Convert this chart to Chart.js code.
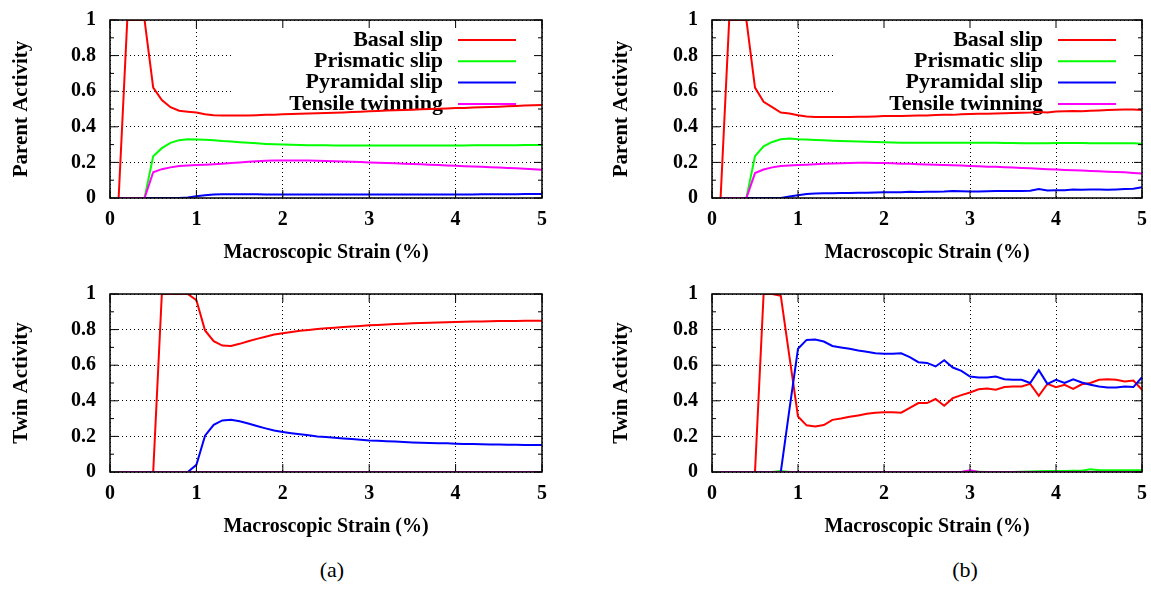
<!DOCTYPE html>
<html>
<head>
<meta charset="utf-8">
<script src="https://cdn.jsdelivr.net/npm/chart.js@4.4.1/dist/chart.umd.min.js"></script>
<style>
  body { margin: 0; background: #fff; width: 1151px; height: 610px; position: relative; overflow: hidden; }
  canvas { position: absolute; }
  .cap { position: absolute; width: 100px; text-align: center; font-family: 'Liberation Serif', serif; font-size: 22px; line-height: 26px; top: 557px; }
</style>
</head>
<body>
<canvas id="pa" width="560" height="270" style="left:0;top:0"></canvas>
<canvas id="pb" width="551" height="270" style="left:600px;top:0"></canvas>
<canvas id="ta" width="560" height="270" style="left:0;top:274px"></canvas>
<canvas id="tb" width="551" height="270" style="left:600px;top:274px"></canvas>
<div class="cap" style="left:282px">(a)</div>
<div class="cap" style="left:915px">(b)</div>
<script>
// macroscopic strain (%) for every sample
const strain = [0.1, 0.2, 0.3, 0.4, 0.5, 0.6, 0.7, 0.8, 0.9, 1.0,
  1.1, 1.2, 1.3, 1.4, 1.5, 1.6, 1.7, 1.8, 1.9, 2.0,
  2.1, 2.2, 2.3, 2.4, 2.5, 2.6, 2.7, 2.8, 2.9, 3.0,
  3.1, 3.2, 3.3, 3.4, 3.5, 3.6, 3.7, 3.8, 3.9, 4.0,
  4.1, 4.2, 4.3, 4.4, 4.5, 4.6, 4.7, 4.8, 4.9, 5.0];

const labels = ['Basal slip', 'Prismatic slip', 'Pyramidal slip', 'Tensile twinning'];
const colors = ['#ff0000', '#00ff00', '#0000ff', '#ff00ff'];

// (a) parent
const aParentBasal = [0, 1, 1, 1, 0.62, 0.55, 0.51, 0.49, 0.485, 0.48,
  0.47, 0.465, 0.463, 0.463, 0.463, 0.464, 0.465, 0.467, 0.468, 0.47,
  0.472, 0.473, 0.475, 0.476, 0.478, 0.479, 0.481, 0.483, 0.485, 0.487,
  0.489, 0.491, 0.493, 0.494, 0.496, 0.498, 0.5, 0.501, 0.503, 0.505,
  0.506, 0.508, 0.51, 0.511, 0.513, 0.515, 0.517, 0.519, 0.521, 0.523];
const aParentPrism = [0, 0, 0, 0, 0.235, 0.28, 0.31, 0.325, 0.33, 0.328,
  0.327, 0.325, 0.32, 0.317, 0.313, 0.31, 0.307, 0.304, 0.302, 0.3,
  0.299, 0.298, 0.297, 0.296, 0.296, 0.295, 0.295, 0.295, 0.295, 0.295,
  0.295, 0.295, 0.295, 0.295, 0.295, 0.295, 0.295, 0.295, 0.295, 0.295,
  0.295, 0.296, 0.296, 0.296, 0.297, 0.297, 0.297, 0.298, 0.298, 0.298];
const aParentPyr = [0, 0, 0, 0, 0, 0, 0, 0, 0.003, 0.01,
  0.015, 0.019, 0.021, 0.021, 0.021, 0.021, 0.021, 0.02, 0.02, 0.02,
  0.02, 0.02, 0.02, 0.02, 0.02, 0.02, 0.02, 0.02, 0.02, 0.02,
  0.02, 0.02, 0.02, 0.02, 0.02, 0.02, 0.02, 0.02, 0.02, 0.02,
  0.02, 0.02, 0.021, 0.021, 0.021, 0.021, 0.021, 0.022, 0.022, 0.022];
const aParentTwin = [0, 0, 0, 0, 0.145, 0.162, 0.172, 0.18, 0.182, 0.185,
  0.187, 0.19, 0.193, 0.197, 0.2, 0.204, 0.207, 0.209, 0.21, 0.21,
  0.21, 0.21, 0.21, 0.209, 0.208, 0.207, 0.205, 0.204, 0.202, 0.2,
  0.198, 0.197, 0.195, 0.193, 0.191, 0.189, 0.187, 0.185, 0.183, 0.181,
  0.179, 0.177, 0.175, 0.173, 0.171, 0.169, 0.167, 0.164, 0.161, 0.158];

// (b) parent
const bParentBasal = [0, 1, 1, 1, 0.62, 0.54, 0.51, 0.48, 0.475, 0.465,
  0.458, 0.455, 0.455, 0.455, 0.455, 0.455, 0.456, 0.457, 0.458, 0.46,
  0.46, 0.461, 0.462, 0.463, 0.464, 0.466, 0.467, 0.467, 0.47, 0.472,
  0.473, 0.474, 0.475, 0.476, 0.478, 0.479, 0.48, 0.483, 0.481, 0.486,
  0.487, 0.489, 0.488, 0.49, 0.492, 0.495, 0.496, 0.497, 0.497, 0.495];
const bParentPrism = [0, 0, 0, 0, 0.235, 0.29, 0.315, 0.33, 0.334, 0.33,
  0.328, 0.326, 0.324, 0.322, 0.32, 0.319, 0.318, 0.316, 0.315, 0.313,
  0.312, 0.311, 0.31, 0.31, 0.31, 0.31, 0.31, 0.31, 0.31, 0.31,
  0.31, 0.31, 0.31, 0.309, 0.309, 0.308, 0.308, 0.307, 0.308, 0.309,
  0.309, 0.309, 0.309, 0.308, 0.308, 0.308, 0.308, 0.308, 0.307, 0.305];
const bParentPyr = [0, 0, 0, 0, 0, 0, 0, 0, 0.008, 0.015,
  0.022, 0.025, 0.026, 0.027, 0.028, 0.028, 0.029, 0.03, 0.031, 0.032,
  0.032, 0.033, 0.035, 0.034, 0.035, 0.035, 0.036, 0.04, 0.038, 0.037,
  0.037, 0.038, 0.039, 0.039, 0.04, 0.04, 0.041, 0.05, 0.042, 0.044,
  0.044, 0.048, 0.047, 0.048, 0.048, 0.047, 0.048, 0.05, 0.052, 0.06];
const bParentTwin = [0, 0, 0, 0, 0.14, 0.16, 0.172, 0.18, 0.182, 0.185,
  0.187, 0.19, 0.192, 0.194, 0.195, 0.197, 0.198, 0.198, 0.197, 0.196,
  0.195, 0.193, 0.192, 0.19, 0.188, 0.187, 0.185, 0.184, 0.182, 0.18,
  0.178, 0.176, 0.175, 0.173, 0.171, 0.169, 0.167, 0.165, 0.162, 0.16,
  0.158, 0.156, 0.154, 0.152, 0.15, 0.148, 0.146, 0.144, 0.141, 0.137];

// (a) twin
const aTwinBasal = [0, 0, 0, 0, 0, 1, 1, 1, 1, 0.965,
  0.795, 0.735, 0.71, 0.708, 0.72, 0.735, 0.748, 0.76, 0.772, 0.78,
  0.787, 0.793, 0.798, 0.803, 0.807, 0.81, 0.814, 0.817, 0.82, 0.824,
  0.826, 0.829, 0.831, 0.833, 0.835, 0.837, 0.838, 0.84, 0.841, 0.843,
  0.844, 0.845, 0.846, 0.847, 0.848, 0.849, 0.849, 0.85, 0.85, 0.85];
const aTwinPrism = [0, 0, 0, 0, 0, 0, 0, 0, 0, 0,
  0, 0, 0, 0, 0, 0, 0, 0, 0, 0,
  0, 0, 0, 0, 0, 0, 0, 0, 0, 0,
  0, 0, 0, 0, 0, 0, 0, 0, 0, 0,
  0, 0, 0, 0, 0, 0, 0, 0, 0, 0];
const aTwinPyr = [0, 0, 0, 0, 0, 0, 0, 0, 0, 0.04,
  0.204, 0.265, 0.29, 0.293, 0.285, 0.272, 0.258, 0.245, 0.233, 0.225,
  0.218, 0.212, 0.206, 0.2, 0.196, 0.192, 0.188, 0.185, 0.181, 0.177,
  0.175, 0.173, 0.171, 0.169, 0.166, 0.164, 0.163, 0.162, 0.161, 0.159,
  0.158, 0.157, 0.156, 0.155, 0.154, 0.153, 0.153, 0.152, 0.152, 0.152];
const aTwinTwin = [0, 0, 0, 0, 0, 0, 0, 0, 0, 0,
  0, 0, 0, 0, 0, 0, 0, 0, 0, 0,
  0, 0, 0, 0, 0, 0, 0, 0, 0, 0,
  0, 0, 0, 0, 0, 0, 0, 0, 0, 0,
  0, 0, 0, 0, 0, 0, 0, 0, 0, 0];

// (b) twin
const bTwinBasal = [0, 0, 0, 0, 0, 1, 1, 0.99, 0.65, 0.312,
  0.262, 0.256, 0.264, 0.293, 0.3, 0.31, 0.318, 0.327, 0.333, 0.336,
  0.336, 0.333, 0.36, 0.387, 0.387, 0.41, 0.372, 0.415, 0.432, 0.447,
  0.465, 0.469, 0.462, 0.477, 0.48, 0.48, 0.495, 0.428, 0.495, 0.477,
  0.49, 0.467, 0.493, 0.5, 0.518, 0.521, 0.518, 0.508, 0.514, 0.462];
const bTwinPrism = [0, 0, 0, 0, 0, 0, 0, 0.005, 0, 0,
  0, 0, 0, 0, 0, 0, 0, 0, 0, 0,
  0, 0, 0, 0, 0, 0, 0, 0, 0, 0.005,
  0.002, 0, 0, 0, 0, 0.002, 0.003, 0.004, 0.005, 0.005,
  0.006, 0.007, 0.007, 0.015, 0.01, 0.01, 0.01, 0.01, 0.01, 0.01];
const bTwinPyr = [0, 0, 0, 0, 0, 0, 0, 0, 0.35, 0.692,
  0.742, 0.744, 0.733, 0.708, 0.7, 0.692, 0.682, 0.675, 0.667, 0.664,
  0.664, 0.667, 0.645, 0.617, 0.613, 0.593, 0.628, 0.587, 0.568, 0.536,
  0.531, 0.531, 0.536, 0.521, 0.518, 0.518, 0.5, 0.572, 0.495, 0.518,
  0.5, 0.521, 0.503, 0.49, 0.48, 0.475, 0.475, 0.48, 0.477, 0.533];
const bTwinTwin = [0, 0, 0, 0, 0, 0, 0, 0, 0, 0,
  0, 0, 0, 0, 0, 0, 0, 0, 0, 0,
  0, 0, 0, 0, 0, 0, 0, 0, 0, 0.01,
  0, 0, 0, 0, 0, 0, 0, 0, 0, 0,
  0, 0, 0, 0, 0, 0, 0, 0, 0, 0];

const FONT = 'Liberation Serif';

// gnuplot-like frame with inward ticks
const frame = {
  id: 'frame',
  afterDraw(chart) {
    const { ctx, chartArea: a, scales: { x, y } } = chart;
    ctx.save();
    ctx.strokeStyle = '#000';
    ctx.lineWidth = 1;
    ctx.beginPath();
    const yt = y.ticks.map(t => t.value);
    yt.forEach((v, i) => {
      const p = y.getPixelForValue(v);
      ctx.moveTo(a.left, p); ctx.lineTo(a.left + 8, p);
      ctx.moveTo(a.right, p); ctx.lineTo(a.right - 8, p);
      if (i > 0) {
        const m = y.getPixelForValue((v + yt[i - 1]) / 2);
        ctx.moveTo(a.left, m); ctx.lineTo(a.left + 4, m);
        ctx.moveTo(a.right, m); ctx.lineTo(a.right - 4, m);
      }
    });
    x.ticks.forEach(t => {
      const p = x.getPixelForValue(t.value);
      ctx.moveTo(p, a.bottom); ctx.lineTo(p, a.bottom - 8);
      ctx.moveTo(p, a.top); ctx.lineTo(p, a.top + 8);
    });
    ctx.stroke();
    ctx.lineWidth = 1.5;
    ctx.strokeRect(a.left, a.top, a.right - a.left, a.bottom - a.top);
    ctx.restore();
  }
};

// opaque key box, right aligned text with line sample
const gpKey = {
  id: 'gpKey',
  beforeDatasetsDraw(chart, args, opts) {
    if (!opts.display) return;
    const { ctx, chartArea: a } = chart;
    ctx.save();
    ctx.fillStyle = '#fff';
    ctx.fillRect(a.right - 308, a.top + 1, 307, 104);
    ctx.font = 'bold 22px "' + FONT + '"';
    ctx.textAlign = 'right';
    ctx.textBaseline = 'middle';
    chart.data.datasets.forEach((ds, i) => {
      const yy = a.top + 20 + i * 21.3;
      ctx.fillStyle = '#000';
      ctx.fillText(ds.label, a.right - 99, yy);
      ctx.strokeStyle = ds.borderColor;
      ctx.lineWidth = 2;
      ctx.beginPath();
      ctx.moveTo(a.right - 84, yy);
      ctx.lineTo(a.right - 26, yy);
      ctx.stroke();
    });
    ctx.restore();
  }
};

function makeChart(id, series, yTitle, showKey, yWidth, padRight) {
  const datasets = series.map((s, i) => ({
    label: labels[i],
    data: s.map((v, j) => ({ x: strain[j], y: v })),
    borderColor: colors[i],
    borderWidth: 2,
    pointRadius: 0,
    tension: 0,
    order: series.length - i
  }));
  const tickFont = { family: FONT, size: 20, weight: 'bold' };
  return new Chart(document.getElementById(id), {
    type: 'line',
    data: { datasets },
    options: {
      responsive: false,
      animation: false,
      layout: { padding: { left: 0, top: 20, right: padRight, bottom: 0 } },
      plugins: { legend: { display: false }, tooltip: { enabled: false }, gpKey: { display: showKey } },
      scales: {
        x: {
          type: 'linear', min: 0, max: 5,
          ticks: { stepSize: 1, padding: 10, color: '#000', font: tickFont },
          grid: { color: '#000', lineWidth: 1, drawTicks: false },
          border: { display: false, dash: [1, 3] },
          title: { display: true, text: 'Macroscopic Strain (%)', color: '#000', font: tickFont, padding: { top: 0, bottom: 5 } },
          afterFit(s) { s.height = 72; s.paddingLeft = 0; s.paddingRight = 0; }
        },
        y: {
          min: 0, max: 1,
          ticks: { stepSize: 0.2, padding: 14, color: '#000', font: tickFont, callback: v => String(+v.toFixed(1)) },
          grid: { color: '#000', lineWidth: 1, drawTicks: false },
          border: { display: false, dash: [1, 3] },
          title: { display: true, text: yTitle, color: '#000', font: { family: FONT, size: 21, weight: 'bold' }, padding: { top: 9, bottom: 0 } },
          afterFit(s) { s.width = yWidth; s.paddingTop = 0; s.paddingBottom = 0; }
        }
      }
    },
    plugins: [gpKey, frame]
  });
}

makeChart('pa', [aParentBasal, aParentPrism, aParentPyr, aParentTwin], 'Parent Activity', true, 110, 18);
makeChart('pb', [bParentBasal, bParentPrism, bParentPyr, bParentTwin], 'Parent Activity', true, 112, 9);
makeChart('ta', [aTwinBasal, aTwinPrism, aTwinPyr, aTwinTwin], 'Twin Activity', false, 110, 18);
makeChart('tb', [bTwinBasal, bTwinPrism, bTwinPyr, bTwinTwin], 'Twin Activity', false, 112, 9);
</script>
</body>
</html>
